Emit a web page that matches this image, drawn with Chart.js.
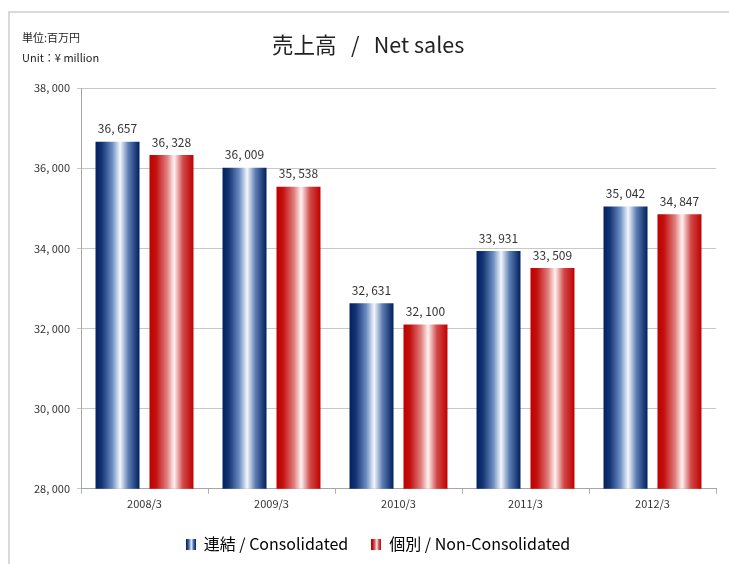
<!DOCTYPE html>
<html>
<head>
<meta charset="utf-8">
<script src="https://cdn.jsdelivr.net/npm/chart.js@4.4.1/dist/chart.umd.min.js"></script>
<style>
    body { margin: 0; background: #fff; }
    #wrap { position: relative; width: 729px; height: 564px; overflow: hidden; }
    #frame { position: absolute; left: 8px; top: 11px; width: 760px; height: 600px;
             border-top: 2px solid #d9d9d9; border-left: 2px solid #d9d9d9; }
    #chart { position: absolute; left: 0; top: 0; }
    .txt { position: absolute; font-family: 'Noto Sans CJK JP', sans-serif; color: #222; white-space: nowrap; }
    #unit1 { left: 22px; top: 29px; font-size: 11px; }
    #unit2 { left: 22px; top: 49px; font-size: 11px; }
    #title { left: 272px; top: 28px; font-size: 21.5px; }
</style>
</head>
<body>
<div id="wrap">
    <div id="frame"></div>
    <canvas id="chart" width="729" height="564"></canvas>
    <div class="txt" id="unit1">単位:百万円</div>
    <div class="txt" id="unit2">Unit：¥ million</div>
    <div class="txt" id="title">売上高 &nbsp;&nbsp;/ &nbsp;&nbsp;Net sales</div>
</div>
<script>
// data
const years = ['2008/3', '2009/3', '2010/3', '2011/3', '2012/3'];
const consolidated = [36657, 36009, 32631, 33931, 35042];
const nonConsolidated = [36328, 35538, 32100, 33509, 34847];
const seriesNames = ['連結 / Consolidated', '個別 / Non-Consolidated'];

const blueStops = [[0, '#00205e'], [0.15, '#153575'], [0.38, '#6b8dc2'], [0.56, '#f4f7fc'], [0.75, '#5c7cb3'], [1, '#00205e']];
const redStops = [[0, '#c00000'], [0.15, '#c41010'], [0.4, '#e07e7e'], [0.56, '#fff2f2'], [0.76, '#d14a4a'], [1, '#c00000']];

function fmt(v) {
    return v.toLocaleString('en-US').replace(/,/g, ', ');
}

function makeGradient(ctx, x0, x1, stops) {
    const g = ctx.createLinearGradient(x0, 0, x1, 0);
    stops.forEach(s => g.addColorStop(s[0], s[1]));
    return g;
}

// small gradient swatch for the legend
function makeSwatch(stops) {
    const c = document.createElement('canvas');
    c.width = 10;
    c.height = 11;
    const cx = c.getContext('2d');
    cx.fillStyle = makeGradient(cx, 0, 10, stops);
    cx.fillRect(0, 0, 10, 11);
    return c;
}

const swatches = [makeSwatch(blueStops), makeSwatch(redStops)];

// recolour each bar with a horizontal gradient across its own width
const barGradient = {
    id: 'barGradient',
    beforeDatasetsDraw(chart) {
        const ctx = chart.ctx;
        chart.data.datasets.forEach((ds, i) => {
            const stops = i === 0 ? blueStops : redStops;
            chart.getDatasetMeta(i).data.forEach(bar => {
                const p = bar.getProps(['x', 'width'], true);
                bar.options.backgroundColor = makeGradient(ctx, p.x - p.width / 2, p.x + p.width / 2, stops);
            });
        });
    }
};

// value labels above the bars
const valueLabels = {
    id: 'valueLabels',
    afterDatasetsDraw(chart) {
        const ctx = chart.ctx;
        ctx.save();
        ctx.font = '12px "Noto Sans CJK JP", sans-serif';
        ctx.fillStyle = '#333';
        ctx.textAlign = 'center';
        ctx.textBaseline = 'bottom';
        chart.data.datasets.forEach((ds, i) => {
            chart.getDatasetMeta(i).data.forEach((bar, j) => {
                ctx.fillText(fmt(ds.data[j]), bar.x, bar.y - 7);
            });
        });
        ctx.restore();
    }
};

// the legend in the reference sits a bit right of the canvas centre
const legendShift = {
    id: 'legendShift',
    afterLayout(chart) {
        chart.legend.left += 40;
    }
};

new Chart(document.getElementById('chart'), {
    type: 'bar',
    data: {
        labels: years,
        datasets: [{
            label: seriesNames[0],
            data: consolidated,
            backgroundColor: () => '#00205e'
        }, {
            label: seriesNames[1],
            data: nonConsolidated,
            backgroundColor: () => '#c00000'
        }]
    },
    options: {
        responsive: false,
        animation: false,
        barPercentage: 0.815,
        categoryPercentage: 0.85,
        layout: {
            padding: { top: 88, right: 13, left: 0, bottom: 2 }
        },
        scales: {
            x: {
                grid: { drawOnChartArea: false, color: '#b0b0b0', tickLength: 5 },
                border: { color: '#a6a6a6' },
                ticks: { color: '#333', font: { size: 11, family: '"Noto Sans CJK JP", sans-serif' }, padding: 3 }
            },
            y: {
                min: 28000,
                max: 38000,
                afterFit(scale) { scale.width = 81; },
                grid: { color: '#c8c8c8', tickLength: 4 },
                border: { color: '#a6a6a6' },
                ticks: {
                    stepSize: 2000,
                    color: '#333',
                    padding: 7,
                    font: { size: 11, family: '"Noto Sans CJK JP", sans-serif' },
                    callback: v => fmt(v)
                }
            }
        },
        plugins: {
            tooltip: { enabled: false },
            legend: {
                position: 'bottom',
                labels: {
                    color: '#222',
                    font: { size: 16, family: '"Noto Sans CJK JP", sans-serif' },
                    usePointStyle: true,
                    boxWidth: 10,
                    padding: 23,
                    generateLabels(chart) {
                        return chart.data.datasets.map((ds, i) => ({
                            text: ds.label,
                            pointStyle: swatches[i],
                            fillStyle: i === 0 ? '#00205e' : '#c00000',
                            strokeStyle: 'transparent',
                            lineWidth: 0,
                            datasetIndex: i,
                            hidden: false
                        }));
                    }
                }
            }
        }
    },
    plugins: [barGradient, valueLabels, legendShift]
});
</script>
</body>
</html>
